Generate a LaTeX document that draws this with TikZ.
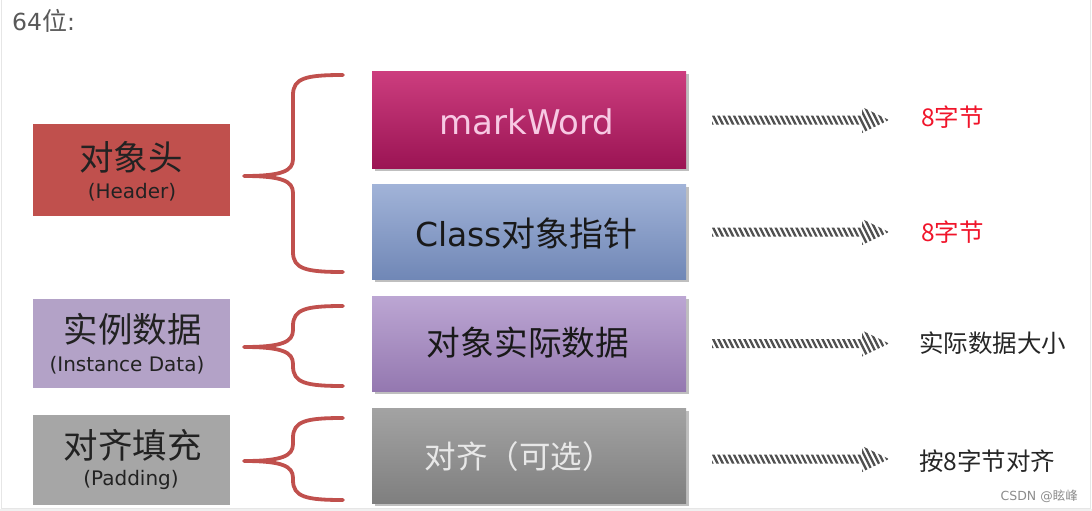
\documentclass[tikz,border=0pt]{standalone}
\usepackage{fontspec}
\setmainfont{DejaVu Sans}
\newfontfamily\cjk{Noto Sans CJK SC}
\usetikzlibrary{calc,shadows}
\definecolor{hdrred}{HTML}{C0504D}
\definecolor{instlav}{HTML}{B3A2C7}
\definecolor{padgray}{HTML}{A6A6A6}
\definecolor{mwtop}{HTML}{CC3D7E}
\definecolor{mwbot}{HTML}{9B1454}
\definecolor{mwtext}{HTML}{F7C9E3}
\definecolor{cltop}{HTML}{A1B3D8}
\definecolor{clbot}{HTML}{7087B6}
\definecolor{dttop}{HTML}{BCA6D3}
\definecolor{dtbot}{HTML}{9478B0}
\definecolor{altop}{HTML}{A3A3A3}
\definecolor{albot}{HTML}{7F7F7F}
\definecolor{altext}{HTML}{E8E8E8}
\definecolor{darktext}{HTML}{222222}
\definecolor{labelred}{HTML}{F0142A}
\definecolor{stripegray}{HTML}{505050}
\definecolor{framegray}{HTML}{E6E6E6}
\newcommand\redbrace[3]{%
  \draw[bracestyle] (343,#1) .. controls (306,#1) and (293,#1+3) .. (293,#1+20)
    -- (293,#2-17) .. controls (293,#2-5) and (282,#2) .. (244,#2)
    .. controls (282,#2) and (293,#2+5) .. (293,#2+17)
    -- (293,#3-20) .. controls (293,#3-3) and (306,#3) .. (343,#3);}
\newcommand\hatcharrow[2]{%
  \begin{scope}
    \clip ($(#1)+(0,-4.5)$) -- ($(#2)+(-27,-4.5)$) -- ($(#2)+(-27,-13)$) -- (#2)
      -- ($(#2)+(-27,13)$) -- ($(#2)+(-27,4.5)$) -- ($(#1)+(0,4.5)$) -- cycle;
    \foreach \k in {0,...,40}{\draw[stripe] ($(#1)+(\k*5.2-14,-14)$) -- ++(14,28);}
  \end{scope}}
\begin{document}
\begin{tikzpicture}[x=1pt,y=-1pt,
  lbox/.style={draw=none,minimum width=197pt,inner sep=0pt,outer sep=0pt},
  rbox/.style={draw=none,minimum width=314pt,inner sep=0pt,outer sep=0pt,
    drop shadow={shadow xshift=2.5pt,shadow yshift=-2.5pt,opacity=.25,fill=black}},
  bigcjk/.style={font=\cjk\fontsize{34.5}{40}\selectfont,text=darktext,inner sep=0pt},
  smalllat/.style={font=\fontsize{20}{24}\selectfont,text=darktext,inner sep=0pt},
  boxtext/.style={inner sep=0pt},
  rlabel/.style={font=\cjk\fontsize{24.5}{28}\selectfont,anchor=west,inner sep=0pt},
  bracestyle/.style={draw=hdrred,line width=3.8pt,line cap=round,line join=round},
  stripe/.style={draw=stripegray,line width=2.3pt}]
\useasboundingbox (0,0) rectangle (1092,511);
% faint frame
\fill[framegray!60] (0,508.5) rectangle (1092,511);
\draw[framegray,line width=1pt] (1.5,0) -- (1.5,508.5) -- (1090.5,508.5) -- (1090.5,0);
% title
\node[text=black!65,anchor=west,inner sep=0pt] (title) at (12,21)
  {{\fontsize{23.5}{28}\selectfont 64}{\cjk\fontsize{25}{28}\selectfont 位}{\fontsize{23.5}{28}\selectfont :}};
% left boxes
\node[lbox,fill=hdrred,minimum height=92pt] (hdr) at (131.5,170) {};
\node[lbox,fill=instlav,minimum height=89pt] (inst) at (131.5,343.5) {};
\node[lbox,fill=padgray,minimum height=90pt] (pad) at (131.5,460) {};
\node[bigcjk] (hdrA) at (131,157) {对象头};
\node[smalllat] (hdrB) at (132,192) {(Header)};
\node[bigcjk] (instA) at (132.5,329) {实例数据};
\node[smalllat] (instB) at (127,365) {(Instance Data)};
\node[bigcjk] (padA) at (132.5,445) {对齐填充};
\node[smalllat] (padB) at (131,480) {(Padding)};
% right boxes
\node[rbox,top color=mwtop,bottom color=mwbot,minimum height=96pt] (mw) at (529,120) {};
\node[rbox,top color=cltop,bottom color=clbot,minimum height=95pt] (cl) at (529,232) {};
\node[rbox,top color=dttop,bottom color=dtbot,minimum height=95pt] (dt) at (529,343.5) {};
\node[rbox,top color=altop,bottom color=albot,minimum height=95pt] (al) at (529,455.5) {};
\node[boxtext,font=\fontsize{34}{40}\selectfont,text=mwtext] (mwT) at (527,122) {markWord};
\node[boxtext,text=black!90] (clT) at (526.5,234)
  {{\fontsize{33}{38}\selectfont Class}{\cjk\fontsize{34}{40}\selectfont 对象指针}};
\node[boxtext,font=\cjk\fontsize{33.7}{40}\selectfont,text=black!90] (dtT) at (528,343) {对象实际数据};
\node[boxtext,font=\cjk\fontsize{31.5}{36}\selectfont,text=altext] (alT) at (519,457) {对齐（可选）};
% braces
\redbrace{75}{176}{272}
\redbrace{306}{347}{386}
\redbrace{418}{461}{500}
% right labels
\node[rlabel,text=labelred] (l1) at (921,117) {8字节};
\node[rlabel,text=labelred] (l2) at (921,232) {8字节};
\node[rlabel,text=black!85] (l3) at (919,343) {实际数据大小};
\node[rlabel,text=black!85] (l4) at (919,461) {按8字节对齐};
% arrows
\coordinate (a1s) at ($(mw.east)+(26,0)$);
\coordinate (a1e) at ($(mw.east)+(203,0)$);
\coordinate (a2s) at ($(cl.east)+(26,0)$);
\coordinate (a2e) at ($(cl.east)+(203,0)$);
\coordinate (a3s) at ($(dt.east)+(26,0)$);
\coordinate (a3e) at ($(dt.east)+(203,0)$);
\coordinate (a4s) at ($(al.east)+(26,3.5)$);
\coordinate (a4e) at ($(al.east)+(203,3.5)$);
\hatcharrow{a1s}{a1e}
\hatcharrow{a2s}{a2e}
\hatcharrow{a3s}{a3e}
\hatcharrow{a4s}{a4e}
% watermark
\node[anchor=east,inner sep=0pt,text=black!45] (wm) at (1078,496)
  {{\fontsize{12.5}{15}\selectfont CSDN @}{\cjk\fontsize{12.5}{15}\selectfont 眩峰}};
\end{tikzpicture}
\end{document}
